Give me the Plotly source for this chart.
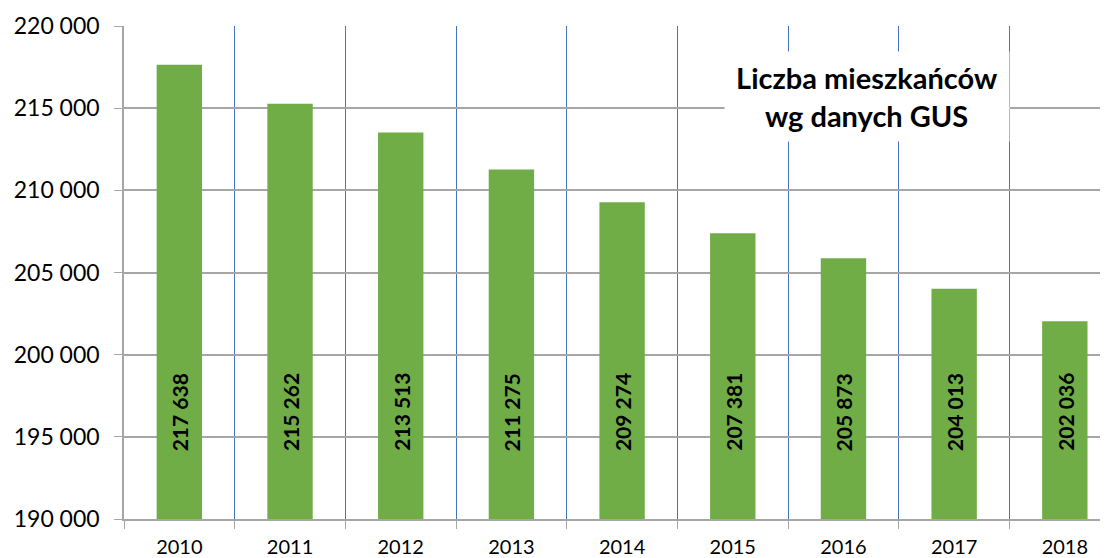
import plotly.graph_objects as go

years = ["2010", "2011", "2012", "2013", "2014", "2015", "2016", "2017", "2018"]
population = [217638, 215262, 213513, 211275, 209274, 207381, 205873, 204013, 202036]
y_ticks = [190000, 195000, 200000, 205000, 210000, 215000, 220000]

BAR_GREEN = "#70AD47"
GRID_GRAY = "#A6A6A6"
GRID_BLUE = "#4472C4"
FONT = "Lato"


def fmt(v: int) -> str:
    return f"{v:,}".replace(",", " ")


fig = go.Figure()
fig.add_trace(
    go.Bar(
        x=years,
        y=population,
        width=0.41,
        marker=dict(color=BAR_GREEN, line=dict(width=0)),
        hoverinfo="x+y",
    )
)

# vertical value labels sitting near the base of each bar
for i, value in enumerate(population):
    fig.add_annotation(
        x=i,
        y=y_ticks[0],
        text=f"<b>{fmt(value)}</b>",
        textangle=-90,
        showarrow=False,
        xanchor="center",
        yanchor="bottom",
        yshift=66,
        font=dict(family=FONT, size=21, color="black"),
    )

fig.add_annotation(
    xref="paper",
    yref="paper",
    x=(867 - 124) / 984,
    y=(519 - 96.5) / 493,
    xanchor="center",
    yanchor="middle",
    text="<b>Liczba mieszkańców<br>wg danych GUS</b>",
    showarrow=False,
    bgcolor="white",
    width=282,
    height=87,
    align="center",
    font=dict(family=FONT, size=29, color="black"),
)

# the page body has an 8px default margin, so the figure is drawn 8px smaller
fig.update_layout(
    width=1100,
    height=550,
    margin=dict(l=116, r=0, t=18, b=39, autoexpand=False),
    paper_bgcolor="white",
    plot_bgcolor="white",
    separators=", ",
    showlegend=False,
    font=dict(family=FONT, color="black"),
)
fig.update_xaxes(
    type="category",
    range=[-0.5, 8.39],
    automargin=False,
    tickson="boundaries",
    ticks="outside",
    ticklen=8,
    tickcolor=GRID_GRAY,
    showgrid=True,
    gridcolor=GRID_BLUE,
    gridwidth=1,
    showline=True,
    linecolor=GRID_GRAY,
    linewidth=1.5,
    ticklabelstandoff=9,
    tickfont=dict(family=FONT, size=20, color="black"),
)
fig.update_yaxes(
    range=[190000, 220000],
    automargin=False,
    tickvals=y_ticks,
    tickformat=",d",
    ticks="outside",
    ticklen=8,
    tickcolor=GRID_GRAY,
    showgrid=True,
    gridcolor=GRID_GRAY,
    gridwidth=1.5,
    showline=True,
    linecolor=GRID_GRAY,
    linewidth=1.5,
    zeroline=False,
    ticklabelstandoff=10,
    tickfont=dict(family=FONT, size=23, color="black"),
)

fig.write_html("out.html")
